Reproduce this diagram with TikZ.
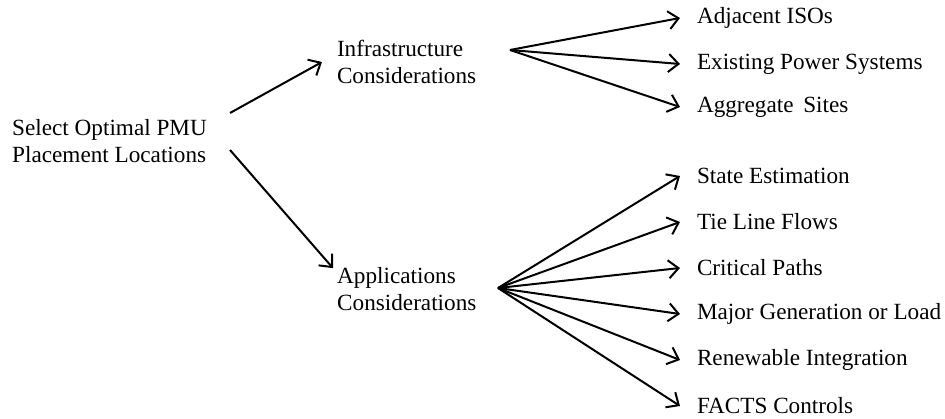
\documentclass[tikz,border=0pt]{standalone}
\usepackage{fontspec}
\setmainfont{Liberation Serif}
\usetikzlibrary{arrows.meta}
\begin{document}
\begin{tikzpicture}[x=1pt,y=-1pt,
  every node/.style={font=\fontsize{23.2}{27}\selectfont, inner sep=0pt},
  block/.style={align=left, anchor=west},
  item/.style={anchor=west, outer xsep=17pt},
  link/.style={line width=2pt, -{Straight Barb[length=10pt,width=18pt,line width=2pt]}}]
  \useasboundingbox (0,0) rectangle (945,419);

  % root and the two branches
  \node[block] (root) at (12,141) {Select Optimal PMU\\Placement Locations};
  \node[block, outer xsep=15pt] (infra) at (322,62) {Infrastructure\\Considerations};
  \node[block] (apps) at (337,289) {Applications\\Considerations};

  % starting points of the connectors
  \coordinate (r1) at (230,113);
  \coordinate (r2) at (230,150);
  \coordinate (fi) at (510,50);
  \coordinate (fa) at (498,288);

  % infrastructure items
  \node[item] (adj) at (680,18) {Adjacent ISOs};
  \node[item] (eps) at (680,64) {Existing Power Systems};
  \node[item] (agg) at (680,107) {Aggregate\, Sites};

  % application items
  \node[item] (se)  at (680,176) {State Estimation};
  \node[item] (tlf) at (680,222) {Tie Line Flows};
  \node[item] (cp)  at (680,268) {Critical Paths};
  \node[item] (mgl) at (680,314) {Major Generation or Load};
  \node[item] (ri)  at (680,360) {Renewable Integration};
  \node[item] (fc)  at (680,406) {FACTS Controls};

  \draw[link] (r1) -- (infra.west);
  \draw[link] (r2) -- ([shift={(-4,1)}]apps.north west);

  \foreach \t in {adj,eps,agg} \draw[link] (fi) -- (\t.west);
  \foreach \t in {se,tlf,cp,mgl,ri,fc} \draw[link] (fa) -- (\t.west);
\end{tikzpicture}
\end{document}
